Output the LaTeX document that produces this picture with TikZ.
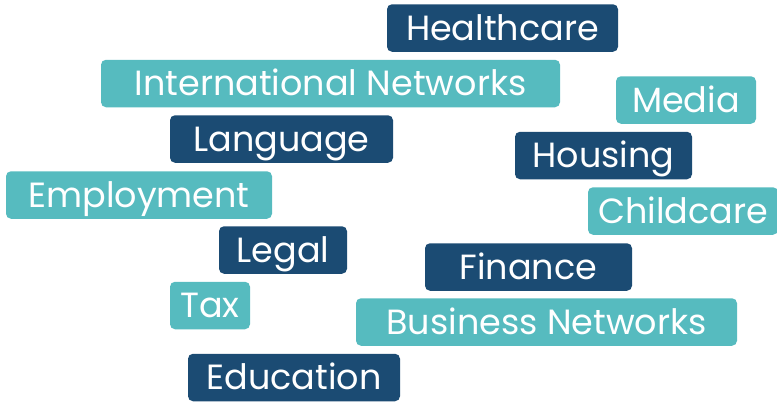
\documentclass[tikz,border=0pt]{standalone}
\usepackage{fontspec}
\setmainfont{Poppins}
\definecolor{darkbox}{RGB}{27,75,115}
\definecolor{tealbox}{RGB}{86,187,191}
\begin{document}
\begin{tikzpicture}[x=1pt,y=-1pt,
  tag/.style={rounded corners=5pt, inner sep=0pt, text=white,
    font=\fontsize{35}{35}\selectfont, text height=24.5pt, text depth=0pt,
    minimum height=47.5pt, anchor=center},
  darktag/.style={tag, fill=darkbox},
  tealtag/.style={tag, fill=tealbox}]
\useasboundingbox (0,0) rectangle (777,402);
\node[darktag, minimum width=231pt] (health) at (502.5,28) {Healthcare};
\node[tealtag, minimum width=459pt] (intl) at (330.5,83.5) {International Networks};
\node[darktag, minimum width=223pt] (lang) at (281.5,139) {Language};
\node[tealtag, minimum width=266pt] (employ) at (139,195) {Employment};
\node[tealtag, minimum width=140pt] (media) at (686,100) {Media};
\node[darktag, minimum width=177pt] (housing) at (603.5,155.5) {Housing};
\node[tealtag, minimum width=190pt] (child) at (683,211) {Childcare};
\node[darktag, minimum width=128pt] (legal) at (283,250) {Legal};
\node[darktag, minimum width=207pt] (finance) at (528.5,267) {Finance};
\node[tealtag, minimum width=80pt] (tax) at (210,305.5) {Tax};
\node[tealtag, minimum width=381pt] (biz) at (546.5,322) {Business Networks};
\node[darktag, minimum width=212pt] (edu) at (294,377.5) {Education};
\end{tikzpicture}
\end{document}
